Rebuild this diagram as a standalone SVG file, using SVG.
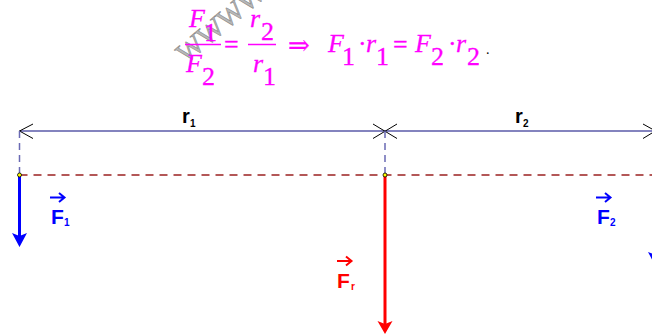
<svg xmlns="http://www.w3.org/2000/svg" width="652" height="335" viewBox="0 0 652 335">
<style>
.m{font-family:"Liberation Serif","DejaVu Serif",serif;font-size:26px;fill:#ff00ff;stroke:#ff00ff;stroke-width:0.3}
.i{font-style:italic}
.lbl{font-family:"Liberation Sans",Arial,sans-serif;font-weight:bold}
.dim{stroke:#5a5aa8;stroke-width:1.5;fill:none}
.tick{stroke:#000;stroke-width:1;fill:none}
.vd{stroke:#6a6ab4;stroke-width:1.5;stroke-dasharray:7 5;fill:none}
.hd{stroke:#9b2020;stroke-width:1.4;stroke-dasharray:8 6;fill:none}
.pt{fill:#ffff00;stroke:#000;stroke-width:0.8}
</style>
<rect width="652" height="335" fill="#fff"/>
<g id="watermark">
<text x="186" y="64" transform="rotate(-40 186 64)" font-family="Liberation Serif,serif" font-size="28" fill="#b8b8b8" stroke="#8a8a8a" stroke-width="0.6">WWWW</text>
</g>
<g id="formula">
<text class="m i" x="189" y="27">F</text><text class="m" x="204" y="41">1</text>
<line x1="185" y1="44.5" x2="221" y2="44.5" stroke="#ff00ff" stroke-width="1.5"/>
<text class="m i" x="186" y="72">F</text><text class="m" x="202" y="85">2</text>
<text class="m" x="224" y="53" font-size="28">=</text>
<text class="m i" x="250" y="27">r</text><text class="m" x="261" y="40">2</text>
<line x1="248" y1="44.5" x2="276" y2="44.5" stroke="#ff00ff" stroke-width="1.5"/>
<text class="m i" x="253" y="72">r</text><text class="m" x="263" y="85">1</text>
<text class="m" x="288" y="54">⇒</text>
<text class="m i" x="328" y="52">F</text><text class="m" x="342" y="65">1</text>
<text class="m" x="358" y="52">·</text>
<text class="m i" x="366" y="52">r</text><text class="m" x="376" y="65">1</text>
<text class="m" x="393" y="53" font-size="28">=</text>
<text class="m i" x="415" y="52">F</text><text class="m" x="431" y="65">2</text>
<text class="m" x="448" y="52">·</text>
<text class="m i" x="456" y="52">r</text><text class="m" x="467" y="65">2</text>
<text x="486" y="54" font-family="Liberation Serif,serif" font-size="14" fill="#000">.</text>
</g>
<g id="connectors">
<line class="dim" x1="19.5" y1="131" x2="652" y2="131"/>
<path class="tick" d="M33 124 L19.5 131 L33 138.5"/>
<path class="tick" d="M373 124 L397 138.5 M373 138.5 L397 124"/>
<path class="tick" d="M643 124 L652 129 M643 138.5 L652 133"/>
<line class="vd" x1="19.5" y1="131" x2="19.5" y2="175"/>
<line class="vd" x1="385" y1="131" x2="385" y2="175"/>
<line class="hd" x1="19.5" y1="175" x2="652" y2="175"/>
</g>
<g id="r1"><text class="lbl" x="182" y="123" font-size="20" fill="#000">r</text><text class="lbl" x="190" y="127" font-size="10" fill="#000">1</text></g>
<g id="r2"><text class="lbl" x="515" y="123" font-size="20" fill="#000">r</text><text class="lbl" x="523" y="127" font-size="10" fill="#000">2</text></g>
<g id="F1">
<line x1="19.5" y1="175" x2="19.5" y2="236" stroke="#0000ff" stroke-width="3"/>
<path d="M19.5 247 L12 233 L19.5 236 L27 233 Z" fill="#0000ff"/>
<path d="M50 197.5 H64 M59 193 L64.5 197.5 L59 202" stroke="#0000ff" stroke-width="2" fill="none"/>
<text class="lbl" x="51" y="224" font-size="21" fill="#0000ff">F</text>
<text class="lbl" x="64" y="226" font-size="10" fill="#0000ff">1</text>
</g>
<g id="Fr">
<line x1="385" y1="175" x2="385" y2="324" stroke="#ff0000" stroke-width="3"/>
<path d="M385 334 L377.5 321 L385 324 L392.5 321 Z" fill="#ff0000"/>
<path d="M337 261 H351 M346 256.5 L351.5 261 L346 265.5" stroke="#ff0000" stroke-width="2" fill="none"/>
<text class="lbl" x="337" y="288" font-size="21" fill="#ff0000">F</text>
<text class="lbl" x="351" y="290" font-size="10" fill="#ff0000">r</text>
</g>
<g id="F2">
<line x1="655.5" y1="175" x2="655.5" y2="255" stroke="#0000ff" stroke-width="3"/>
<path d="M655.5 266 L648 252 L655.5 255 L663 252 Z" fill="#0000ff"/>
<path d="M596 197.5 H610 M605 193 L610.5 197.5 L605 202" stroke="#0000ff" stroke-width="2" fill="none"/>
<text class="lbl" x="597" y="224" font-size="21" fill="#0000ff">F</text>
<text class="lbl" x="610" y="226" font-size="10" fill="#0000ff">2</text>
</g>
<g id="points">
<circle class="pt" cx="19.5" cy="175" r="2"/>
<circle class="pt" cx="385" cy="175" r="2"/>
</g>
</svg>
